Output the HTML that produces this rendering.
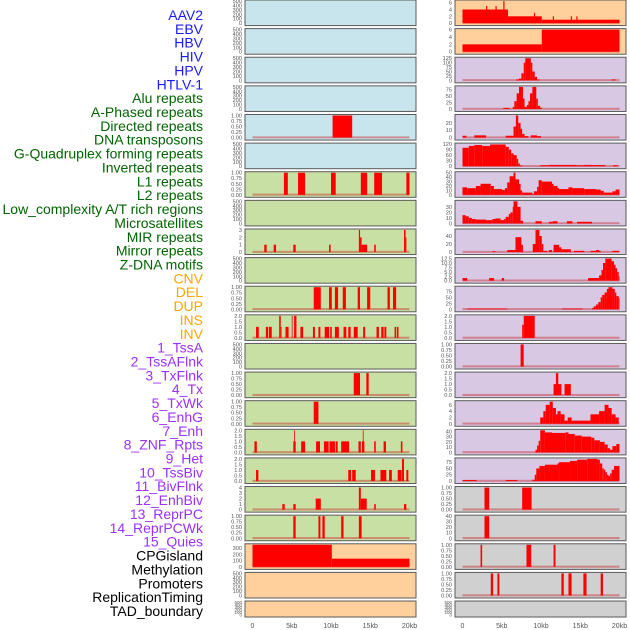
<!DOCTYPE html>
<html><head><meta charset="utf-8"><style>
html,body{margin:0;padding:0;background:#fff;width:630px;height:630px;overflow:hidden}
svg{display:block;font-family:"Liberation Sans",sans-serif}
</style></head><body>
<svg id="chart" width="630" height="630" viewBox="0 0 630 630"></svg>
<script>
const trackLabels=["AAV2","EBV","HBV","HIV","HPV","HTLV-1","Alu repeats","A-Phased repeats","Directed repeats","DNA transposons","G-Quadruplex forming repeats","Inverted repeats","L1 repeats","L2 repeats","Low_complexity A/T rich regions","Microsatellites","MIR repeats","Mirror repeats","Z-DNA motifs","CNV","DEL","DUP","INS","INV","1_TssA","2_TssAFlnk","3_TxFlnk","4_Tx","5_TxWk","6_EnhG","7_Enh","8_ZNF_Rpts","9_Het","10_TssBiv","11_BivFlnk","12_EnhBiv","13_ReprPC","14_ReprPCWk","15_Quies","CPGisland","Methylation","Promoters","ReplicationTiming","TAD_boundary"];
const labelGroups=[6,13,5,15,5];
const xTickValues=[0,5,10,15,20];
const xTickLabels=["0","5kb","10kb","15kb","20kb"];
const E=["0","100","200","300","400","500"];
const P1=["0.00","0.25","0.50","0.75","1.00"];
const P2=["0.0","0.5","1.0","1.5","2.0"];
const leftTicks=[E,E,E,E,P1,E,P1,E,["0","1","2","3"],E,P1,P2,E,P1,P1,P2,P2,["0","1","2","3","4"],P1,["0","100","200","300"],E,E];
const leftSegs=[[],[],[],[],
[[10.2,12.7,1]],
[],
[[4.0,4.5,1],[5.8,6.7,1],[10.0,10.6,1],[13.8,14.6,1],[15.5,16.5,1],[19.6,20,1]],
[],
[[1.5,1.8,1],[2.7,3.0,1],[5.2,5.5,1],[9.75,9.95,1],[13.55,13.7,3],[13.7,13.9,2],[13.9,14.6,1],[15.5,15.7,1],[19.3,19.5,3],[19.5,19.6,2]],
[],
[[7.8,8.7,1],[9.75,10.1,1],[10.5,10.9,1],[11.5,11.9,1],[13.4,13.7,1],[14.6,15.0,1],[17.2,17.5,1],[17.9,18.3,1]],
[[0.45,0.8,1],[1.7,2.0,1],[2.1,2.45,1],[3.4,3.6,2],[3.6,3.7,1],[4.2,4.6,1],[5.0,5.1,2],[5.3,5.6,2],[6.1,6.45,1],[7.7,7.95,1],[8.4,8.65,1],[9.2,9.75,1],[9.9,10.1,1],[10.5,11.0,1],[11.6,11.95,1],[12.2,12.5,1],[12.9,13.4,1],[14.1,14.35,1],[15.8,16.1,1],[16.4,16.7,1],[16.8,17.05,1],[18.1,18.3,1],[18.4,18.6,1]],
[],
[[12.9,13.7,1],[14.5,14.8,1]],
[[7.8,8.4,1]],
[[0.25,0.55,1],[5.2,5.5,1],[5.3,5.4,2],[6.2,6.7,1],[8.1,8.6,1],[9.1,9.7,1],[9.8,10.5,1],[10.6,10.85,1],[11.3,12.3,1],[13.5,13.8,1],[13.95,14.25,1],[14.05,14.15,2],[15.5,15.7,1],[16.7,17.0,1],[18.9,19.1,1]],
[[0.45,0.75,1],[12.2,12.55,1],[12.7,13.15,1],[15.1,15.6,1],[16.3,17.05,1],[17.4,17.75,1],[18.5,19.0,1],[19.05,19.3,2],[19.6,19.85,1]],
[[3.8,4.1,1],[5.2,5.5,1],[8.05,8.7,2],[13.55,13.8,4],[13.8,14.55,2],[15.5,15.7,1],[19.3,19.6,1]],
[[5.2,5.5,1],[8.4,8.65,1],[8.9,9.2,1],[11.3,11.6,1],[13.55,13.9,1]],
[[0,10.1,350],[10.1,20,130]],
[],[]];
const rightTicks=[["0","2","4","6"],["0","2","4","6"],["0","25","50","75","100","125"],["0","25","50","75"],["0","10","20"],["0","30","60","90","120"],["0","10","20","30","40","50"],["0","10","20","30"],["0","20","40"],["0.0","2.5","5.0","7.5","10.0","12.5"],["0","25","50","75"],P2,P1,P2,["0","2","4","6"],["0","10","20","30","40"],["0","25","50","75"],P1,["0","10","20","30","40"],P1,P1,E];
const rightSegs=[
[[0,5.8,4],[3.0,3.15,5],[4.2,4.35,5],[5.2,5.35,6.5],[5.8,10.1,2],[9.1,9.25,3],[10.1,20,1],[11.5,11.65,2],[13.8,13.95,2],[14.5,14.65,2]],
[[0,10.1,2],[10.1,20,6]],
[[6.8,7.2,5],[7.2,7.5,10],[7.5,7.8,40],[7.8,8.0,100],[8.0,8.7,125],[8.7,8.9,100],[8.9,9.2,50],[9.2,9.5,20],[9.5,9.8,5],[19.0,19.5,5]],
[[5.2,6.0,4],[6.4,6.6,8],[6.6,6.9,30],[6.9,7.2,60],[7.2,7.7,85],[7.7,7.9,40],[7.9,8.2,8],[8.2,8.4,15],[8.4,8.6,30],[8.6,8.9,60],[8.9,9.4,85],[9.4,9.6,40],[9.6,9.9,12],[9.9,10.1,5]],
[[0,0.5,2.5],[1.5,3.0,3],[5.5,6.5,2.5],[6.5,6.8,15],[6.8,7.1,30],[7.1,7.4,20],[7.4,7.6,12],[7.6,7.9,5],[7.9,8.4,2],[8.7,9.5,3],[9.5,10.0,2]],
[[0,0.8,100],[0.8,1.5,110],[1.5,2.5,115],[2.5,3.5,110],[3.5,5.5,118],[5.5,5.9,105],[5.9,6.2,90],[6.2,6.5,70],[6.5,6.9,60],[6.9,7.1,40],[7.1,7.3,15],[7.3,7.6,4],[9.9,11.0,5],[11.0,14.5,7],[14.5,15.5,5],[15.5,16.6,7],[16.6,18.2,6],[19.2,19.8,5]],
[[0,0.6,17],[0.6,1.7,15],[1.7,2.3,20],[2.3,3.6,25],[3.6,4.0,20],[4.0,5.05,13],[5.05,5.4,11],[5.4,5.7,15],[5.7,6.0,28],[6.0,6.5,42],[6.5,6.75,50],[6.75,7.2,35],[7.2,7.4,25],[7.4,7.6,10],[7.6,8.9,5],[8.9,9.1,2],[9.1,9.5,8],[9.5,9.7,18],[9.7,10.1,33],[10.1,11.4,30],[11.4,11.6,25],[11.6,12.1,20],[12.1,12.3,15],[12.3,13.5,13],[13.5,14.0,17],[14.0,15.5,15],[15.5,17.0,13],[17.0,17.6,12],[17.6,18.0,9],[18.0,19.1,5],[19.1,19.5,8],[19.5,20,12]],
[[0,0.4,15],[0.4,0.8,13],[0.8,1.2,10],[1.2,1.7,8],[1.7,3.0,7],[3.0,3.8,6],[3.8,4.2,8],[4.2,4.85,9],[4.85,5.3,6],[5.3,5.5,8],[5.5,5.9,12],[5.9,6.1,17],[6.1,6.4,20],[6.4,6.5,30],[6.5,7.0,40],[7.0,7.4,30],[7.4,7.7,5],[9.3,10.1,4],[11.0,11.5,3],[11.5,12.1,4],[13.3,14.0,4],[14.6,16.5,3]],
[[3.8,4.2,2],[5.7,6.75,5],[6.75,7.5,37],[7.5,7.7,18],[8.95,9.3,20],[9.3,9.8,55],[9.8,10.1,40],[10.1,10.3,20],[10.3,10.8,3],[11.0,11.4,5],[11.6,12.3,18],[12.3,12.6,12],[12.6,13.8,7],[14.2,15.5,3],[16.3,17.0,3],[17.0,17.4,5],[17.4,17.6,3],[19.1,20,3]],
[[0,0.6,1.5],[3.4,4.0,1.5],[5.0,5.3,1.5],[16.0,17.4,1.5],[17.4,17.7,3],[17.7,17.9,6],[17.9,18.2,10],[18.2,19.0,12.5],[19.0,19.3,11],[19.3,19.5,9],[19.5,19.7,7],[19.7,19.9,5],[19.9,20,2.5]],
[[0.6,5.7,3],[12.7,15.3,3],[16.5,16.7,5],[16.7,17.0,12],[17.0,17.3,20],[17.3,17.6,30],[17.6,17.8,50],[17.8,18.1,60],[18.1,18.4,70],[18.4,18.6,85],[18.6,19.1,92],[19.1,19.4,85],[19.4,19.6,70],[19.6,19.9,55],[19.9,20,48]],
[[7.6,7.8,1.2],[7.8,9.2,2]],
[[7.4,7.8,1]],
[[11.6,12.6,1],[11.9,12.2,2],[13.0,13.8,1]],
[[9.9,10.3,2],[10.3,10.6,4],[10.6,11.1,6],[11.1,11.5,7],[11.5,11.9,5],[11.9,12.1,3],[12.1,12.5,4],[12.5,13.0,3],[13.0,13.4,1],[13.4,13.9,2],[13.9,16.3,1],[16.3,17.4,3],[17.4,18.1,4],[18.1,18.6,6],[18.6,19.0,5],[19.0,19.5,3],[19.5,19.9,2]],
[[9.3,9.5,5],[9.5,9.7,13],[9.7,9.9,22],[9.9,10.5,42],[10.5,11.4,38],[11.4,13.1,37],[13.1,13.5,38],[13.5,14.3,35],[14.3,15.2,32],[15.2,16.4,30],[16.4,16.8,28],[16.8,17.5,23],[17.5,18.1,20],[18.1,18.5,15],[18.5,18.8,8],[18.8,19.1,5],[19.1,19.6,12],[19.6,20,16]],
[[0,1.8,4],[5.5,7.0,4],[8.9,9.2,5],[9.2,9.4,25],[9.4,9.8,50],[9.8,10.5,60],[10.5,12.1,65],[12.1,12.3,70],[12.3,13.7,75],[13.7,14.6,80],[14.6,15.9,85],[15.9,17.2,88],[17.2,17.5,85],[17.5,17.8,70],[17.8,18.0,50],[18.0,18.2,45],[18.2,18.4,35],[18.4,18.6,25],[18.6,18.8,20],[18.8,19.0,30],[19.0,19.3,45],[19.3,20,60]],
[[2.8,3.4,1],[7.6,8.8,1]],
[[2.8,3.4,40]],
[[2.3,2.5,1],[8.15,8.75,1],[11.6,11.85,1]],
[[3.6,3.9,1],[4.45,4.7,1],[12.6,12.9,1],[13.5,13.9,1],[15.4,15.8,1],[17.6,17.9,1]],
[]];

const NS="http://www.w3.org/2000/svg";
const svg=document.getElementById('chart');
function mk(tag,attrs,parent){const e=document.createElementNS(NS,tag);for(const k in attrs)e.setAttribute(k,attrs[k]);(parent||svg).appendChild(e);return e;}
const groupColors=["#1a1aff","#006400","#ffa500","#9b30ff","#000000"];
const blue="#c8e4ec",green="#c8e0a4",orange="#ffd09b",purple="#d8c8e4",gray="#d0d0d0";
function leftBg(i){return i<6?blue:(i<19?green:orange);}
function rightBg(i){return i<2?orange:(i<17?purple:gray);}
function rowTop(i){return i*28.62;}
function rowH(i){return i===21?16:25.6;}
const cols=[{x0:245,x1:416,ticks:leftTicks,segs:leftSegs,bg:leftBg,name:'left'},{x0:455,x1:626,ticks:rightTicks,segs:rightSegs,bg:rightBg,name:'right'}];

// labels
let li=0;
labelGroups.forEach((n,g)=>{for(let k=0;k<n;k++){const t=mk('text',{x:203,y:(15+li*13.86+5).toFixed(1),'text-anchor':'end','font-size':'14',fill:groupColors[g]});


t.textContent=trackLabels[li];li++;}});

cols.forEach(c=>{
  const xs=kb=>c.x0+7.5+kb*7.85;
  for(let r=0;r<22;r++){
    const top=rowTop(r),h=rowH(r);
    const g=mk('g',{});
    
    
    mk('rect',{x:c.x0,y:top,width:c.x1-c.x0,height:h,fill:c.bg(r),stroke:'#5a5a5a','stroke-width':1},g);
    const tk=c.ticks[r];const segs=c.segs[r];
    let ymax=parseFloat(tk[tk.length-1]);
    segs.forEach(s=>{if(s[2]>ymax)ymax=s[2];});
    const ys=v=>top+1+(1-v/ymax)*(h-3.5);
    tk.forEach(l=>{const t=mk('text',{x:c.x0-3,y:(ys(parseFloat(l))+2).toFixed(1),'text-anchor':'end','font-size':h<20?'4.5':'5.6',fill:'#555'},g);
      
      
      t.textContent=l;});
    if(segs.length){
      mk('rect',{x:xs(0),y:ys(0)-1.2,width:xs(20)-xs(0),height:2,fill:'rgba(200,40,40,0.45)'},g);
      segs.forEach(s=>{const b=mk('rect',{x:xs(s[0]).toFixed(2),y:ys(s[2]).toFixed(2),width:Math.max(0.8,xs(s[1])-xs(s[0])).toFixed(2),height:(ys(0)-ys(s[2])).toFixed(2),fill:'#ff0000'},g);
        
        });
    }
  }
  xTickValues.forEach((v,i)=>{const t=mk('text',{x:xs(v),y:628,'text-anchor':'middle','font-size':'7',fill:'#555'});
    
    
    t.textContent=xTickLabels[i];});
});
</script>
</body></html>
